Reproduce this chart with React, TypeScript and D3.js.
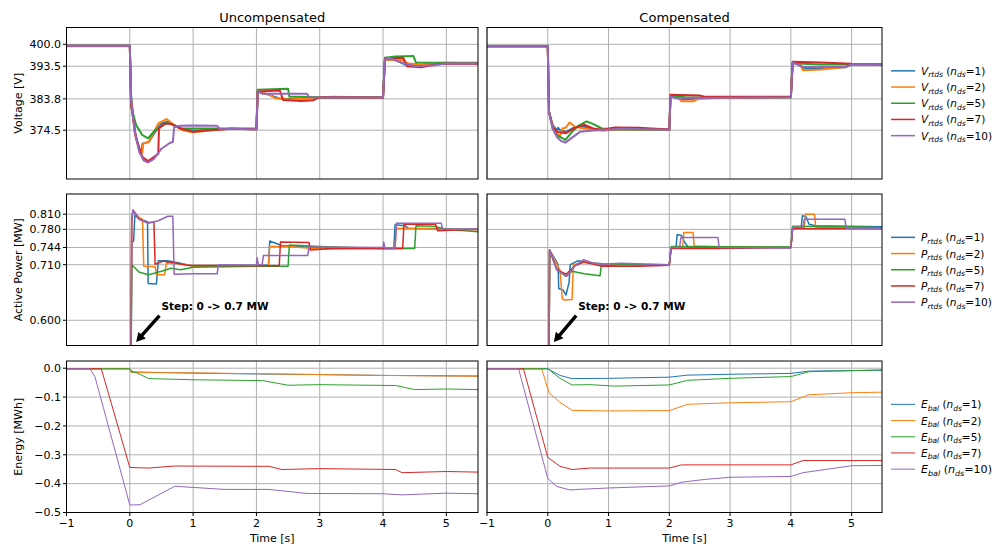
import React from 'react';
import * as d3 from 'd3';

type Pt = [number, number];

const COLORS = ['#1f77b4', '#ff7f0e', '#2ca02c', '#d62728', '#9467bd'];
const nds = [1, 2, 5, 7, 10];
const xTicks = [-1, 0, 1, 2, 3, 4, 5];
const vTicks = [400.0, 393.5, 383.8, 374.5];
const pTicks = [0.81, 0.78, 0.744, 0.71, 0.6];
const eTicks = [0.0, -0.1, -0.2, -0.3, -0.4, -0.5];
const titles = ['Uncompensated', 'Compensated'];

// Voltage, uncompensated
const vU1: Pt[] = [[-1,399.6],[0,399.6],[0.02,385],[0.08,374],[0.15,369],[0.19,368],[0.2,370.5],[0.3,371],[0.4,374],[0.5,376.5],[0.6,377],[0.7,376],[0.8,375],[1.0,374.3],[1.3,374.6],[1.6,374.9],[2.0,374.8],[2.02,386],[2.2,385],[2.35,384],[2.5,383.8],[2.8,384],[3.2,384.3],[4.0,384.2],[4.03,395.5],[4.2,395.3],[4.35,394],[4.6,393.8],[5.0,394.3],[5.5,394.3]];
const vU2: Pt[] = [[-1,399.4],[0,399.4],[0.02,384],[0.08,373.5],[0.15,368.5],[0.2,368],[0.21,370.5],[0.3,371],[0.45,376.5],[0.58,377.8],[0.7,376],[0.85,374.4],[1.0,373.9],[1.3,374.5],[1.6,374.9],[2.0,374.8],[2.02,386],[2.2,385],[2.3,384],[2.5,383.6],[2.8,384],[3.2,384.4],[4.0,384.2],[4.03,395.5],[4.3,395.3],[4.4,394.3],[4.6,394],[5.0,394.5],[5.5,394.3]];
const vU3: Pt[] = [[-1,399.6],[0,399.6],[0.02,381.5],[0.1,376],[0.2,373],[0.29,372.1],[0.4,374.5],[0.58,376.6],[0.7,376],[0.8,375.1],[1.0,375],[2.0,375],[2.02,386.5],[2.5,386.8],[2.52,384.5],[3.0,384.3],[4.0,384.2],[4.03,396],[4.2,396.4],[4.48,396.5],[4.52,394.6],[5.0,394.5],[5.5,394.5]];
const vU4: Pt[] = [[-1,399.6],[0,399.6],[0.02,382],[0.1,372],[0.2,366.5],[0.29,365.3],[0.4,366.8],[0.45,367.5],[0.46,375],[0.55,376.4],[0.65,376.4],[0.8,375],[1.0,374],[1.2,374.4],[1.6,374.9],[2.0,374.8],[2.02,386],[2.37,386.3],[2.42,383.5],[2.7,383.2],[2.9,383.4],[3.0,384.3],[4.0,384.2],[4.03,395.8],[4.32,396],[4.38,393.5],[4.6,393.2],[4.9,394.2],[5.5,394.2]];
const vU5: Pt[] = [[-1,399.6],[0,399.6],[0.02,383],[0.08,374],[0.15,368],[0.22,365.5],[0.29,364.9],[0.38,366],[0.5,369],[0.63,370.7],[0.68,371],[0.7,375.4],[0.8,375.8],[1.0,375.9],[1.38,375.8],[1.42,374.9],[2.0,374.8],[2.02,386],[2.1,385.3],[2.8,385.3],[2.83,384.3],[4.0,384.2],[4.03,395.6],[4.1,396],[4.3,394.5],[4.5,393.5],[4.8,393.8],[5.0,394.3],[5.5,394.3]];

// Voltage, compensated
const vC1: Pt[] = [[-1,399.4],[0,399.4],[0.02,380],[0.08,376],[0.15,374.5],[0.17,375.2],[0.2,374.5],[0.3,374],[0.4,375],[0.55,375.8],[0.7,375],[0.9,374.4],[1.2,374.8],[2.0,374.6],[2.02,384.8],[2.1,384.5],[2.2,383.6],[2.4,383.8],[2.8,384.1],[4.0,384.3],[4.03,394.5],[4.1,394.3],[4.2,393],[4.4,392.8],[4.9,393.2],[5.0,394],[5.5,394]];
const vC2: Pt[] = [[-1,399.4],[0,399.4],[0.02,380],[0.08,376],[0.15,373.5],[0.2,372.6],[0.24,375],[0.3,375.3],[0.36,376.8],[0.45,375.5],[0.6,375],[0.8,374.5],[1.2,374.8],[2.0,374.6],[2.02,384.7],[2.15,384],[2.2,383.1],[2.4,383.1],[2.5,384],[4.0,384.3],[4.03,394.5],[4.15,394],[4.2,392.3],[4.5,392.5],[4.9,393.3],[5.0,394],[5.5,393.9]];
const vC3: Pt[] = [[-1,399.4],[0,399.4],[0.02,380],[0.08,375],[0.15,373],[0.29,371.6],[0.4,374],[0.5,375.8],[0.64,377.1],[0.75,376.3],[0.89,375],[1.2,374.8],[2.0,374.6],[2.02,384.7],[2.3,384.2],[4.0,384.3],[4.03,394.5],[4.2,394.2],[4.5,394],[5.0,394],[5.5,394]];
const vC4: Pt[] = [[-1,399.4],[0,399.4],[0.02,380],[0.08,375.5],[0.15,374],[0.3,373.6],[0.45,375.2],[0.6,376.1],[0.75,375],[0.9,374.6],[1.1,375.3],[1.5,375.2],[2.0,374.7],[2.02,385],[2.5,384.8],[2.6,384.4],[4.0,384.4],[4.03,394.8],[4.5,394.6],[5.0,394.2],[5.5,394.1]];
const vC5: Pt[] = [[-1,399.4],[0,399.4],[0.02,380],[0.08,375],[0.15,372.5],[0.22,371.3],[0.29,370.8],[0.4,372.3],[0.53,374],[0.7,374.3],[0.8,374.5],[1.2,374.9],[2.0,374.6],[2.02,384.6],[2.1,384],[2.8,384.1],[4.0,384.3],[4.03,394.6],[4.2,393.3],[4.9,393.3],[5.0,394.1],[5.5,394.1]];

// Active power, uncompensated
const pU1: Pt[] = [[-1,0],[0,0],[0.03,0.755],[0.06,0.757],[0.08,0.808],[0.15,0.8],[0.28,0.795],[0.29,0.673],[0.42,0.672],[0.45,0.718],[0.6,0.718],[0.8,0.713],[1.0,0.707],[2.0,0.709],[2.19,0.709],[2.21,0.757],[2.4,0.748],[3.0,0.743],[4.0,0.742],[4.17,0.742],[4.19,0.789],[4.35,0.787],[4.4,0.782],[5.5,0.78]];
const pU2: Pt[] = [[-1,0],[0,0],[0.03,0.79],[0.05,0.818],[0.15,0.803],[0.2,0.8],[0.22,0.707],[0.4,0.706],[0.42,0.69],[0.55,0.69],[0.58,0.714],[0.8,0.712],[1.0,0.707],[2.0,0.707],[2.19,0.707],[2.21,0.746],[2.5,0.746],[3.0,0.741],[4.0,0.742],[4.19,0.742],[4.21,0.782],[5.0,0.78],[5.5,0.779]];
const pU3: Pt[] = [[-1,0],[0,0],[0.03,0.71],[0.15,0.695],[0.3,0.69],[0.5,0.697],[0.65,0.703],[0.8,0.7],[1.0,0.705],[2.0,0.707],[2.5,0.707],[2.52,0.749],[3.0,0.746],[4.0,0.742],[4.5,0.742],[4.52,0.787],[4.8,0.786],[5.0,0.78],[5.5,0.775]];
const pU4: Pt[] = [[-1,0],[0,0],[0.03,0.8],[0.05,0.818],[0.15,0.8],[0.29,0.793],[0.38,0.795],[0.4,0.711],[0.53,0.717],[0.7,0.714],[0.9,0.709],[2.0,0.708],[2.36,0.708],[2.38,0.755],[2.83,0.754],[2.85,0.739],[3.2,0.742],[4.0,0.742],[4.31,0.742],[4.33,0.79],[4.83,0.79],[4.86,0.777],[5.5,0.78]];
const pU5: Pt[] = [[-1,0],[0,0],[0.03,0.8],[0.05,0.818],[0.15,0.8],[0.29,0.792],[0.45,0.797],[0.6,0.806],[0.68,0.806],[0.7,0.691],[1.0,0.692],[1.38,0.692],[1.4,0.71],[2.0,0.709],[2.01,0.724],[2.03,0.71],[2.09,0.71],[2.11,0.728],[2.81,0.728],[2.83,0.745],[4.0,0.744],[4.01,0.755],[4.03,0.743],[4.19,0.743],[4.21,0.792],[4.92,0.792],[4.94,0.78],[5.5,0.78]];

// Active power, compensated
const pC1: Pt[] = [[-1,0],[0,0],[0.03,0.739],[0.1,0.725],[0.17,0.71],[0.18,0.663],[0.25,0.66],[0.3,0.65],[0.35,0.675],[0.37,0.71],[0.5,0.718],[0.6,0.715],[0.9,0.712],[1.5,0.71],[2.0,0.71],[2.03,0.744],[2.11,0.744],[2.13,0.77],[2.2,0.768],[2.25,0.755],[2.31,0.745],[3.0,0.745],[4.0,0.744],[4.03,0.785],[4.17,0.785],[4.19,0.807],[4.25,0.805],[4.3,0.79],[4.4,0.787],[5.5,0.785]];
const pC2: Pt[] = [[-1,0],[0,0],[0.03,0.739],[0.1,0.722],[0.2,0.7],[0.24,0.642],[0.28,0.64],[0.4,0.641],[0.42,0.71],[0.6,0.715],[0.9,0.711],[2.0,0.71],[2.03,0.744],[2.22,0.745],[2.24,0.774],[2.39,0.774],[2.41,0.747],[3.0,0.745],[4.0,0.744],[4.03,0.784],[4.22,0.784],[4.24,0.81],[4.39,0.81],[4.41,0.784],[5.5,0.783]];
const pC3: Pt[] = [[-1,0],[0,0],[0.03,0.739],[0.15,0.7],[0.3,0.687],[0.4,0.697],[0.6,0.692],[0.86,0.688],[0.88,0.708],[1.2,0.71],[2.0,0.71],[2.03,0.746],[4.0,0.745],[4.03,0.786],[5.0,0.785],[5.5,0.783]];
const pC4: Pt[] = [[-1,0],[0,0],[0.03,0.739],[0.15,0.7],[0.3,0.691],[0.45,0.708],[0.6,0.716],[0.75,0.711],[0.9,0.707],[1.5,0.707],[2.0,0.709],[2.03,0.742],[2.8,0.742],[4.0,0.744],[4.03,0.781],[5.5,0.781]];
const pC5: Pt[] = [[-1,0],[0,0],[0.03,0.739],[0.15,0.7],[0.31,0.687],[0.45,0.708],[0.59,0.72],[0.75,0.713],[0.9,0.711],[1.2,0.713],[2.0,0.71],[2.03,0.744],[2.17,0.744],[2.19,0.764],[2.8,0.764],[2.82,0.744],[4.0,0.743],[4.03,0.784],[4.2,0.784],[4.22,0.8],[4.89,0.8],[4.91,0.782],[5.5,0.782]];

// Energy, uncompensated
const eU1: Pt[] = [[-1,-0.002],[0,-0.002],[0.05,-0.013],[1,-0.017],[2,-0.02],[3,-0.022],[4,-0.025],[5.5,-0.027]];
const eU2: Pt[] = [[-1,-0.002],[0,-0.002],[0.02,-0.015],[1,-0.016],[2,-0.019],[3,-0.022],[4,-0.025],[5,-0.027],[5.5,-0.028]];
const eU3: Pt[] = [[-1,-0.002],[0,-0.002],[0.03,-0.013],[0.1,-0.015],[0.3,-0.036],[1,-0.04],[2.1,-0.043],[2.5,-0.059],[3,-0.057],[4.2,-0.06],[4.5,-0.074],[5,-0.072],[5.5,-0.074]];
const eU4: Pt[] = [[-1,-0.002],[-0.45,-0.002],[0,-0.344],[0.3,-0.346],[0.7,-0.339],[2.2,-0.34],[2.4,-0.351],[3,-0.348],[4.2,-0.351],[4.3,-0.362],[5,-0.358],[5.5,-0.36]];
const eU5: Pt[] = [[-1,-0.002],[-0.63,-0.002],[-0.55,-0.03],[0,-0.474],[0.16,-0.473],[0.71,-0.409],[1.5,-0.42],[2.2,-0.42],[2.8,-0.434],[4,-0.435],[4.3,-0.439],[5,-0.433],[5.5,-0.435]];

// Energy, compensated
const eC1: Pt[] = [[-1,-0.002],[0,-0.002],[0.2,-0.025],[0.4,-0.036],[1,-0.035],[2,-0.031],[2.3,-0.024],[3,-0.021],[4,-0.018],[4.3,-0.01],[5.5,-0.007]];
const eC2: Pt[] = [[-1,-0.002],[-0.1,-0.002],[0.02,-0.085],[0.2,-0.118],[0.4,-0.146],[1,-0.148],[2,-0.147],[2.3,-0.125],[3,-0.12],[4,-0.116],[4.3,-0.092],[5,-0.085],[5.5,-0.083]];
const eC3: Pt[] = [[-1,-0.002],[0,-0.002],[0.05,-0.01],[0.2,-0.035],[0.4,-0.058],[0.7,-0.057],[1.1,-0.062],[2,-0.058],[2.3,-0.042],[3,-0.035],[4,-0.029],[4.3,-0.012],[5.5,-0.006]];
const eC4: Pt[] = [[-1,-0.002],[-0.4,-0.002],[0,-0.309],[0.2,-0.34],[0.4,-0.351],[0.7,-0.346],[2,-0.346],[2.2,-0.335],[4,-0.335],[4.2,-0.32],[5.5,-0.32]];
const eC5: Pt[] = [[-1,-0.002],[-0.48,-0.002],[0,-0.382],[0.15,-0.41],[0.37,-0.422],[0.5,-0.42],[1,-0.415],[2,-0.408],[2.2,-0.395],[2.6,-0.385],[3,-0.378],[4,-0.375],[4.2,-0.362],[4.6,-0.35],[5,-0.338],[5.5,-0.337]];

// annotation (data coords): arrow tip, text anchor
const annTip: Pt = [0.1, 0.557];
const annText: Pt = [0.5, 0.621];
const annLabel = 'Step: 0 -> 0.7 MW';

const FONT = 'DejaVu Sans, sans-serif';
const minus = (s: string) => s.replace('-', '\u2212');

const COLS = [[66.5, 478], [487, 882]];
const ROWS = [[27.5, 179], [194, 345.5], [361, 512.5]];

type RowDef = {
  domain: [number, number];
  ticks: number[];
  fmt: (v: number) => string;
  ylabel: string;
  sym: string;
  sub: string;
  width: number;
  data: Pt[][][];
};

const rowsDef: RowDef[] = [
  { domain: [360, 405], ticks: vTicks, fmt: (v) => v.toFixed(1), ylabel: 'Voltage [V]', sym: 'V', sub: 'rtds', width: 2, data: [[vU1, vU2, vU3, vU4, vU5], [vC1, vC2, vC3, vC4, vC5]] },
  { domain: [0.55, 0.85], ticks: pTicks, fmt: (v) => v.toFixed(3), ylabel: 'Active Power [MW]', sym: 'P', sub: 'rtds', width: 1.5, data: [[pU1, pU2, pU3, pU4, pU5], [pC1, pC2, pC3, pC4, pC5]] },
  { domain: [-0.5, 0.025], ticks: eTicks, fmt: (v) => minus(v.toFixed(1)), ylabel: 'Energy [MWh]', sym: 'E', sub: 'bal', width: 1, data: [[eU1, eU2, eU3, eU4, eU5], [eC1, eC2, eC3, eC4, eC5]] },
];

function Arrow({ x1, y1, x2, y2 }: { x1: number; y1: number; x2: number; y2: number }) {
  const dx = x2 - x1, dy = y2 - y1;
  const L = Math.hypot(dx, dy);
  const ux = dx / L, uy = dy / L;
  const nx = -uy, ny = ux;
  const hl = 9, hw = 5, sw = 1.7;
  const bx = x2 - ux * hl, by = y2 - uy * hl;
  const pts = [
    [x1 + nx * sw, y1 + ny * sw],
    [bx + nx * sw, by + ny * sw],
    [bx + nx * hw, by + ny * hw],
    [x2, y2],
    [bx - nx * hw, by - ny * hw],
    [bx - nx * sw, by - ny * sw],
    [x1 - nx * sw, y1 - ny * sw],
  ];
  return <polygon points={pts.map((p) => p.join(',')).join(' ')} fill="#000" />;
}

export default function App() {
  const panels: React.ReactNode[] = [];
  rowsDef.forEach((rd, ri) => {
    const [y0, y1] = ROWS[ri];
    const y = d3.scaleLinear().domain(rd.domain).range([y1, y0]);
    COLS.forEach(([x0, x1c], ci) => {
      const x = d3.scaleLinear().domain([-1, 5.5]).range([x0, x1c]);
      const line = d3.line<Pt>().x((d) => x(d[0])).y((d) => y(d[1]));
      const id = `clip-${ri}-${ci}`;
      panels.push(
        <g key={id}>
          <defs>
            <clipPath id={id}>
              <rect x={x0} y={y0} width={x1c - x0} height={y1 - y0} />
            </clipPath>
          </defs>
          <rect x={x0} y={y0} width={x1c - x0} height={y1 - y0} fill="#fff" />
          {xTicks.map((t) => (
            <line key={'gx' + t} x1={x(t)} x2={x(t)} y1={y0} y2={y1} stroke="#b0b0b0" strokeWidth={1} />
          ))}
          {rd.ticks.map((t) => (
            <line key={'gy' + t} x1={x0} x2={x1c} y1={y(t)} y2={y(t)} stroke="#b0b0b0" strokeWidth={1} />
          ))}
          <g clipPath={`url(#${id})`}>
            {rd.data[ci].map((s, k) => (
              <path key={k} d={line(s) || ''} fill="none" stroke={COLORS[k]} strokeWidth={rd.width} strokeLinejoin="round" />
            ))}
          </g>
          <rect x={x0} y={y0} width={x1c - x0} height={y1 - y0} fill="none" stroke="#000" strokeWidth={1} />
          {ci === 0 &&
            rd.ticks.map((t) => (
              <g key={'ty' + t}>
                <line x1={x0 - 3.5} x2={x0} y1={y(t)} y2={y(t)} stroke="#000" strokeWidth={1} />
                <text x={x0 - 5.5} y={y(t)} dy="0.35em" textAnchor="end" fontSize={11} fontFamily={FONT} fill="#000">
                  {rd.fmt(t)}
                </text>
              </g>
            ))}
          {ri === 2 &&
            xTicks.map((t) => (
              <g key={'tx' + t}>
                <line x1={x(t)} x2={x(t)} y1={y1} y2={y1 + 3.5} stroke="#000" strokeWidth={1} />
                <text x={x(t)} y={y1 + 14.5} textAnchor="middle" fontSize={11} fontFamily={FONT} fill="#000">
                  {minus(String(t))}
                </text>
              </g>
            ))}
          {ri === 0 && (
            <text x={(x0 + x1c) / 2} y={22} textAnchor="middle" fontSize={13} fontFamily={FONT} fill="#000">
              {titles[ci]}
            </text>
          )}
          {ri === 2 && (
            <text x={(x0 + x1c) / 2} y={542} textAnchor="middle" fontSize={11} fontFamily={FONT} fill="#000">
              Time [s]
            </text>
          )}
          {ci === 0 && (
            <text
              transform={`translate(22,${(y0 + y1) / 2}) rotate(-90)`}
              textAnchor="middle"
              fontSize={11}
              fontFamily={FONT}
              fill="#000"
            >
              {rd.ylabel}
            </text>
          )}
          {ri === 1 && (
            <g>
              <Arrow x1={x(annText[0]) - 2} y1={y(annText[1]) + 6} x2={x(annTip[0])} y2={y(annTip[1])} />
              <text x={x(annText[0])} y={y(annText[1])} fontSize={10.5} fontWeight="bold" fontFamily={FONT} fill="#000">
                {annLabel}
              </text>
            </g>
          )}
        </g>
      );
    });
    // legend
    const cy = (y0 + y1) / 2;
    const gap = 16.2;
    panels.push(
      <g key={'leg' + ri}>
        {nds.map((n, k) => {
          const yy = cy + (k - 2) * gap;
          return (
            <g key={k}>
              <line x1={891} x2={915} y1={yy} y2={yy} stroke={COLORS[k]} strokeWidth={rd.width === 1 ? 1 : 1.5} />
              <text x={921} y={yy + 4} fontSize={10.5} fontFamily={FONT} fill="#000" textLength={n >= 10 ? 71 : undefined} lengthAdjust="spacingAndGlyphs">
                <tspan fontStyle="italic">{rd.sym}</tspan>
                <tspan fontStyle="italic" fontSize={7.5} dy={2.5}>{rd.sub}</tspan>
                <tspan dy={-2.5}> (</tspan>
                <tspan fontStyle="italic">n</tspan>
                <tspan fontStyle="italic" fontSize={7.5} dy={2.5}>ds</tspan>
                <tspan dy={-2.5}>={n})</tspan>
              </text>
            </g>
          );
        })}
      </g>
    );
  });

  return (
    <svg width={995} height={547} style={{ position: 'absolute', left: 0, top: 0, background: '#fff' }}>
      <rect x={0} y={0} width={995} height={547} fill="#fff" />
      {panels}
    </svg>
  );
}
